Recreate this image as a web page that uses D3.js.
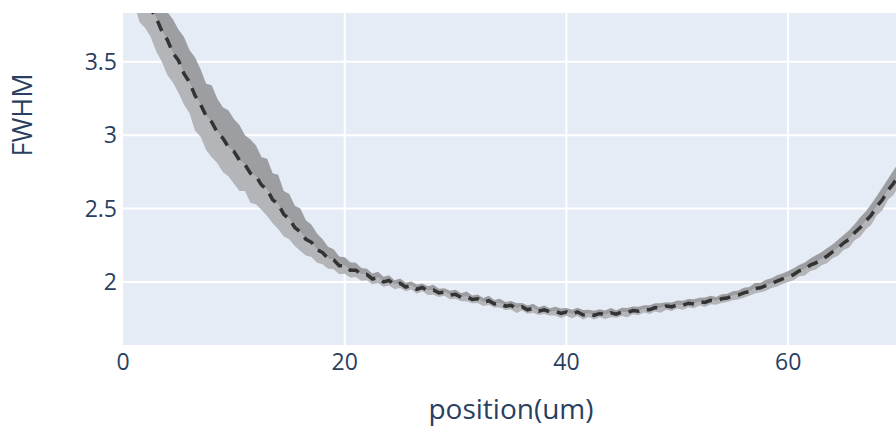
<!DOCTYPE html>
<html>
<head>
<meta charset="utf-8">
<script src="https://cdn.jsdelivr.net/npm/d3@7"></script>
<style>
  html, body { margin: 0; padding: 0; background: #fff; }
  svg { display: block; font-family: "Open Sans", "DejaVu Sans", sans-serif; }
</style>
</head>
<body>
<svg id="chart"></svg>
<script>
// measured FWHM along the position, every 0.5 um from 0 to 70
const positions = d3.range(0, 70.5, 0.5);

const fwhmMean = [
  4.24, 4.17, 4.10, 4.01, 3.95, 3.86, 3.80, 3.71, 3.65, 3.56,
  3.51, 3.42, 3.36, 3.27, 3.21, 3.13, 3.09, 3.02, 2.98, 2.92,
  2.89, 2.83, 2.80, 2.74, 2.72, 2.66, 2.63, 2.56, 2.53, 2.46,
  2.43, 2.37, 2.34, 2.29, 2.27, 2.22, 2.20, 2.16, 2.15, 2.11,
  2.11, 2.08, 2.08, 2.05, 2.05, 2.02, 2.03, 2.00, 2.01, 1.98,
  1.99, 1.965, 1.975, 1.95, 1.962, 1.94, 1.945, 1.925, 1.93, 1.91,
  1.915, 1.895, 1.90, 1.88, 1.885, 1.862, 1.872, 1.85, 1.855, 1.835,
  1.84, 1.82, 1.83, 1.81, 1.82, 1.80, 1.81, 1.795, 1.80, 1.785,
  1.795, 1.78, 1.795, 1.775, 1.785, 1.772, 1.785, 1.775, 1.79, 1.78,
  1.795, 1.79, 1.805, 1.80, 1.815, 1.81, 1.825, 1.82, 1.835, 1.83,
  1.845, 1.84, 1.855, 1.85, 1.865, 1.86, 1.875, 1.87, 1.885, 1.89,
  1.905, 1.91, 1.925, 1.935, 1.955, 1.96, 1.975, 1.99, 2.005, 2.02,
  2.035, 2.05, 2.075, 2.085, 2.115, 2.13, 2.155, 2.175, 2.205, 2.23,
  2.265, 2.29, 2.335, 2.37, 2.415, 2.455, 2.515, 2.56, 2.625, 2.67,
  2.73
];

// spread above the mean (dark band)
const upperSpread = [
  0.20, 0.23, 0.19, 0.22, 0.25, 0.20, 0.22, 0.24, 0.19, 0.23,
  0.21, 0.25, 0.22, 0.26, 0.24, 0.22, 0.25,
  0.23, 0.21, 0.25, 0.22, 0.24, 0.20, 0.23, 0.21,
  0.19, 0.21, 0.18, 0.20, 0.16, 0.17,
  0.15, 0.16, 0.13, 0.12, 0.11, 0.09,
  0.08, 0.072, 0.064, 0.058, 0.054, 0.05,
  0.045, 0.04, 0.038, 0.04, 0.035, 0.036, 0.032, 0.034,
  0.030, 0.028, 0.033, 0.027, 0.031, 0.035, 0.029, 0.026, 0.030, 0.032,
  0.028, 0.034, 0.027, 0.030, 0.029, 0.033, 0.026, 0.031, 0.028, 0.030,
  0.035, 0.027, 0.029, 0.032, 0.028, 0.030, 0.026, 0.031, 0.033, 0.027,
  0.030, 0.029, 0.034, 0.026, 0.031, 0.028, 0.030, 0.032, 0.027, 0.029,
  0.033, 0.028, 0.030, 0.026, 0.031, 0.029, 0.034, 0.027, 0.030, 0.028,
  0.032, 0.029, 0.031, 0.027, 0.033, 0.030, 0.028, 0.031, 0.029, 0.032,
  0.032, 0.036, 0.031, 0.037, 0.034, 0.039, 0.035, 0.041, 0.037, 0.040,
  0.043, 0.040, 0.047, 0.045, 0.051, 0.047, 0.054, 0.050, 0.058, 0.055,
  0.063, 0.058, 0.070, 0.065, 0.076, 0.070, 0.083, 0.077, 0.090, 0.086
];

// spread below the mean (light band)
const lowerSpread = [
  0.22, 0.25, 0.20, 0.24, 0.22, 0.19, 0.23, 0.21, 0.24, 0.20,
  0.22, 0.21, 0.21, 0.24, 0.22, 0.23, 0.24,
  0.21, 0.23, 0.20, 0.22, 0.21, 0.18, 0.20, 0.19,
  0.17, 0.18, 0.16, 0.17, 0.15, 0.14,
  0.125, 0.13, 0.11, 0.10, 0.09, 0.08,
  0.07, 0.064, 0.058, 0.054, 0.05, 0.046,
  0.042, 0.038, 0.036, 0.038, 0.033, 0.034, 0.030, 0.032,
  0.028, 0.026, 0.030, 0.025, 0.029, 0.032, 0.027, 0.024, 0.028, 0.030,
  0.026, 0.031, 0.025, 0.028, 0.027, 0.030, 0.024, 0.029, 0.026, 0.028,
  0.032, 0.025, 0.027, 0.030, 0.026, 0.028, 0.024, 0.029, 0.031, 0.025,
  0.028, 0.027, 0.031, 0.024, 0.029, 0.026, 0.028, 0.030, 0.025, 0.027,
  0.030, 0.026, 0.028, 0.024, 0.029, 0.027, 0.031, 0.025, 0.028, 0.026,
  0.030, 0.027, 0.029, 0.025, 0.031, 0.028, 0.026, 0.029, 0.027, 0.030,
  0.030, 0.033, 0.029, 0.034, 0.031, 0.036, 0.032, 0.037, 0.034, 0.036,
  0.039, 0.036, 0.042, 0.040, 0.045, 0.042, 0.048, 0.044, 0.051, 0.048,
  0.056, 0.051, 0.062, 0.057, 0.066, 0.061, 0.072, 0.066, 0.078, 0.074
];

const xTicks = [0, 20, 40, 60];
const yTicks = [2, 2.5, 3, 3.5];

const width = 896;
const height = 427;
const margin = { top: 13, right: -3, bottom: 82, left: 123 };

const svg = d3.select("#chart")
  .attr("width", width)
  .attr("height", height);

const x = d3.scaleLinear()
  .domain([0, 70])
  .range([margin.left, width - margin.right]);

const y = d3.scaleLinear()
  .domain([1.57, 3.833])
  .range([height - margin.bottom, margin.top]);

const plotW = x.range()[1] - x.range()[0];
const plotH = y.range()[0] - y.range()[1];

svg.append("defs").append("clipPath")
  .attr("id", "plot-clip")
  .append("rect")
  .attr("x", margin.left)
  .attr("y", margin.top)
  .attr("width", plotW)
  .attr("height", plotH);

// background
svg.append("rect")
  .attr("x", margin.left)
  .attr("y", margin.top)
  .attr("width", plotW)
  .attr("height", plotH)
  .attr("fill", "#e5ecf6");

// grid lines
svg.append("g")
  .selectAll("line")
  .data(xTicks.filter(d => d > 0))
  .enter().append("line")
  .attr("x1", d => x(d))
  .attr("x2", d => x(d))
  .attr("y1", margin.top)
  .attr("y2", margin.top + plotH)
  .attr("stroke", "#fff")
  .attr("stroke-width", 2);

svg.append("g")
  .selectAll("line")
  .data(yTicks)
  .enter().append("line")
  .attr("y1", d => y(d))
  .attr("y2", d => y(d))
  .attr("x1", margin.left)
  .attr("x2", margin.left + plotW)
  .attr("stroke", "#fff")
  .attr("stroke-width", 2);

const rows = positions.map((p, i) => ({
  x: p,
  mean: fwhmMean[i],
  hi: fwhmMean[i] + upperSpread[i],
  lo: fwhmMean[i] - lowerSpread[i]
}));

const plot = svg.append("g").attr("clip-path", "url(#plot-clip)");

// lower half of the band
plot.append("path")
  .datum(rows)
  .attr("fill", "#b3b5b9")
  .attr("d", d3.area()
    .x(d => x(d.x))
    .y0(d => y(d.lo))
    .y1(d => y(d.mean)));

// upper half of the band
plot.append("path")
  .datum(rows)
  .attr("fill", "#9c9ea2")
  .attr("d", d3.area()
    .x(d => x(d.x))
    .y0(d => y(d.mean))
    .y1(d => y(d.hi)));

// mean line
plot.append("path")
  .datum(rows)
  .attr("fill", "none")
  .attr("stroke", "#333")
  .attr("stroke-width", 3.5)
  .attr("stroke-dasharray", "11,8")
  .attr("d", d3.line()
    .x(d => x(d.x))
    .y(d => y(d.mean)));

// tick labels
svg.append("g")
  .selectAll("text")
  .data(xTicks)
  .enter().append("text")
  .attr("x", d => x(d))
  .attr("y", 370)
  .attr("text-anchor", "middle")
  .attr("font-size", 23)
  .attr("fill", "#2a3f5f")
  .text(d => d);

svg.append("g")
  .selectAll("text")
  .data(yTicks)
  .enter().append("text")
  .attr("x", 117)
  .attr("y", d => y(d) + 8)
  .attr("text-anchor", "end")
  .attr("font-size", 23)
  .attr("fill", "#2a3f5f")
  .text(d => d);

// axis titles
svg.append("text")
  .attr("x", (x.range()[0] + x.range()[1]) / 2)
  .attr("y", 419)
  .attr("text-anchor", "middle")
  .attr("font-size", 28)
  .attr("fill", "#2a3f5f")
  .text("position(um)");

svg.append("text")
  .attr("transform", "translate(32,115) rotate(-90)")
  .attr("text-anchor", "middle")
  .attr("font-size", 27)
  .attr("fill", "#2a3f5f")
  .text("FWHM");
</script>
</body>
</html>
